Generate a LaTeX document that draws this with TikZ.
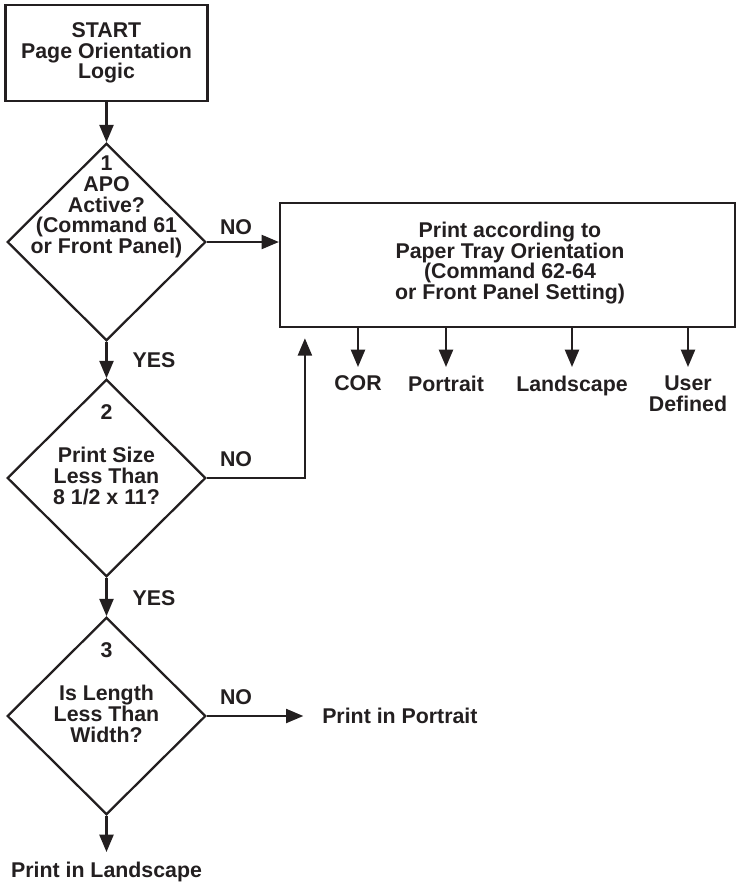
\documentclass[tikz,border=0pt]{standalone}
\usepackage{fontspec}
\setmainfont{Liberation Sans}
\definecolor{inkBlack}{HTML}{231F20}
\usepackage{tikz}
\usetikzlibrary{calc, positioning, shapes.geometric, arrows.meta}
\newcommand{\flowFont}{\fontsize{16}{15.5}\selectfont\bfseries}

\begin{document}
\begin{tikzpicture}[x=0.75pt, y=-0.75pt,
    every node/.style={text=inkBlack, font=\flowFont, align=center},
    procBox/.style={draw=inkBlack, line width=1.9pt, rectangle, inner sep=0pt},
    decision/.style={draw=inkBlack, line width=1.7pt, diamond, inner sep=0pt,
                     minimum width=149pt, minimum height=148pt},
    flowArrow/.style={draw=inkBlack, line width=1.7pt, -{Triangle[length=13pt, width=10.5pt]}},
    branchLbl/.style={inner sep=0pt},
    resultLbl/.style={inner sep=6.5pt, anchor=north}]
  \useasboundingbox (0,0) rectangle (737,882);

  % start and the three questions
  \node[procBox, minimum width=151.5pt, minimum height=72pt] (start) at (106.5,53)
    {START\\Page Orientation\\Logic};
  \node[decision] (d1) at (106.5,242) {};
  \node[decision] (d2) at (106.5,478) {};
  \node[decision] (d3) at (106.5,716) {};

  \node (q1) at (106.5,207) {1\\APO\\Active?\\(Command 61\\or Front Panel)};
  \node (n2) at (106.5,412) {2};
  \node (q2) at (106.5,476) {Print Size\\Less Than\\8 1/2 x 11?};
  \node (n3) at (106.5,650) {3};
  \node (q3) at (106.5,714) {Is Length\\Less Than\\Width?};

  % paper tray box and its outputs
  \node[procBox, minimum width=341pt, minimum height=93pt] (tray) at (507.5,265) {};
  \node (trayTxt) at (510,263)
    {Print according to\\Paper Tray Orientation\\(Command 62-64\\or Front Panel Setting)};

  \node[resultLbl] (oCor)  at (358,367) {COR};
  \node[resultLbl] (oPort) at (446,367) {Portrait};
  \node[resultLbl] (oLand) at (572,367) {Landscape};
  \node[resultLbl] (oUser) at (688,367) {User\\Defined};

  \node[inner sep=0pt, anchor=west] (pPort) at (322,716) {Print in Portrait};
  \node[inner sep=7.5pt, anchor=north] (pLand) at (106.5,852) {Print in Landscape};

  % branch labels
  \node[branchLbl] (no1)  at (236,227) {NO};
  \node[branchLbl] (no2)  at (236,459) {NO};
  \node[branchLbl] (no3)  at (236,697) {NO};
  \node[branchLbl] (yes1) at (154,360) {YES};
  \node[branchLbl] (yes2) at (154,598) {YES};

  % connectors
  \draw[flowArrow] (start.south) -- (d1.north);
  \draw[flowArrow] (d1.south) -- (d2.north);
  \draw[flowArrow] (d2.south) -- (d3.north);
  \draw[flowArrow] (d1.east) -- (d1.east -| tray.west);
  \draw[flowArrow, shorten >=7.5pt] (d2.east) -| ([xshift=19.5pt]tray.south west);
  \draw[flowArrow, shorten >=14pt] (d3.east) -- (pPort.west);
  \draw[flowArrow] (d3.south) -- (pLand.north);
  \foreach \out in {oCor, oPort, oLand, oUser}
    \draw[flowArrow] (tray.south -| \out.north) -- (\out.north);
\end{tikzpicture}
\end{document}
